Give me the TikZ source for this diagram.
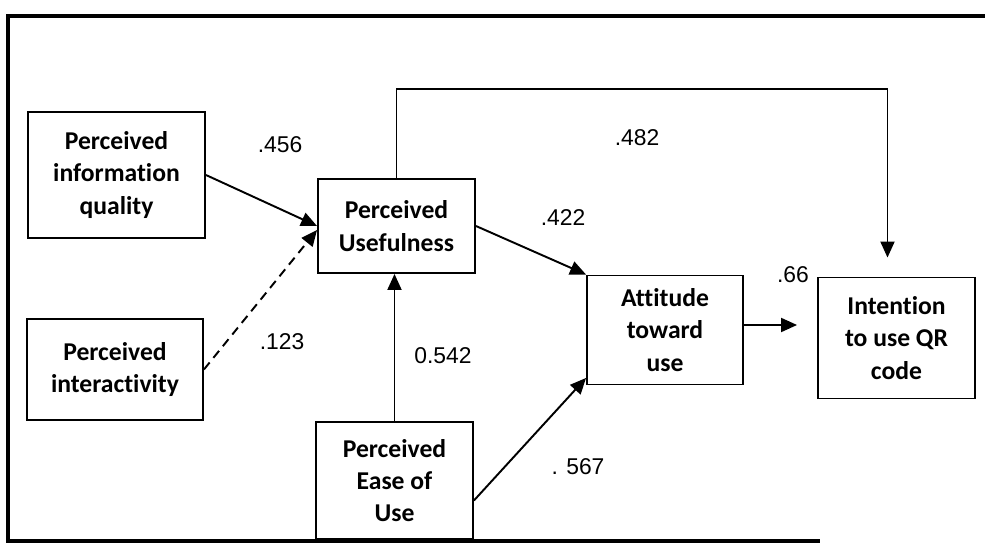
\documentclass[tikz,border=0pt]{standalone}
\usepackage{fontspec}
\setmainfont{Carlito}[Ligatures=NoCommon]
\newfontfamily\numfont{Liberation Sans}
\usetikzlibrary{arrows.meta,positioning,calc}

\begin{document}
\begin{tikzpicture}[
  x=0.02cm, y=-0.02cm,
  factor/.style={rectangle, draw, line width=1.1pt, align=center,
                 inner sep=0pt, text=black,
                 font=\fontsize{14.6}{18.4}\selectfont\bfseries},
  coef/.style={font=\numfont\fontsize{13}{15}\selectfont, inner sep=0pt},
  arr/.style={-{Triangle[length=0.32cm,width=0.28cm]}, line width=1.1pt},
  dasharr/.style={arr, dash pattern=on 0.18cm off 0.12cm}
]
  \useasboundingbox (0,0) rectangle (985,553);
  % outer frame
  \draw[line width=2.2pt] (985,16) -- (8,16) -- (8,541) -- (820,541);

  \node[factor, minimum width=3.54cm, minimum height=2.52cm] (PIQ)
    at (116.5,175) {Perceived\\information\\quality};
  \node[factor, minimum width=3.52cm, minimum height=2.02cm] (PI)
    at (115,369.5) {Perceived\\interactivity};
  \node[factor, minimum width=3.14cm, minimum height=1.88cm] (PU)
    at (396.5,226) {Perceived\\Usefulness};
  \node[factor, minimum width=3.14cm, minimum height=2.34cm] (PEOU)
    at (394.5,480.5) {Perceived\\Ease of\\Use};
  \node[factor, minimum width=3.12cm, minimum height=2.18cm] (ATU)
    at (665,330) {Attitude\\toward\\use};
  \node[factor, minimum width=3.14cm, minimum height=2.42cm] (IUQR)
    at (896.5,338) {Intention\\to use QR\\code};

  % path coefficients
  \node[coef] (c456) at (280,145) {.456};
  \node[coef] (c482) at (637,138) {.482};
  \node[coef] (c422) at (563,218) {.422};
  \node[coef] (c123) at (282,342) {.123};
  \node[coef] (c542) at (443,356) {0.542};
  \node[coef] (c567) at (578,467) {. 567};
  \node[coef] (c66)  at (793,275) {.66};

  % connectors
  \coordinate (loopTop) at (0,89);
  \coordinate (atuOut) at ([yshift=0.1cm]ATU.east);
  \draw[arr] (PIQ.east) -- (PU.west);
  \draw[dasharr] (PI.east) -- ([yshift=-0.08cm]PU.west);
  \draw[arr] (PEOU.north) -- (PEOU.north |- PU.south);
  \draw[arr] (PU.east) -- (ATU.north west);
  \draw[arr] ([yshift=-0.4cm]PEOU.east) -- ([yshift=0.15cm]ATU.south west);
  \draw[arr, shorten >=0.4cm] (atuOut) -- (atuOut -| IUQR.west);
  \draw[arr, shorten >=0.38cm] (PU.north) -- (PU.north |- loopTop)
    -| ([xshift=-0.18cm]IUQR.north);
\end{tikzpicture}
\end{document}
